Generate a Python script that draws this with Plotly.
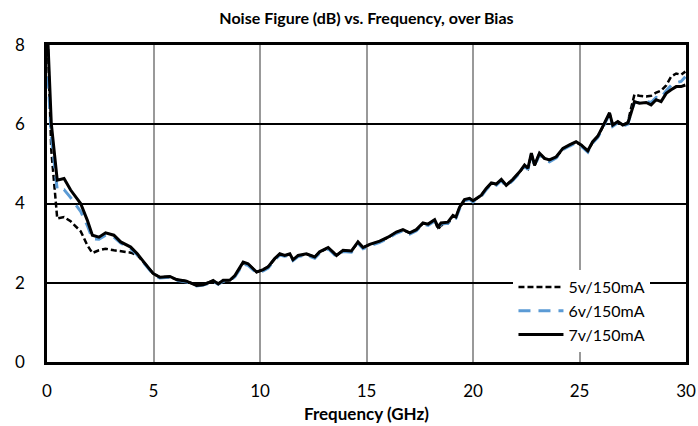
import plotly.graph_objects as go

# frequency points (GHz) shared by all three bias curves
freq = [0.05, 0.2, 0.48, 0.8, 1.11, 1.58, 1.89, 2.13, 2.44, 2.75, 3.14, 3.46, 3.93, 4.24, 4.55,
        4.99, 5.3, 5.77, 6.08, 6.55, 7.02, 7.33, 7.57, 7.8, 8.04, 8.27, 8.58, 8.82, 9.21, 9.44,
        9.84, 10.15, 10.38, 10.69, 10.93, 11.16, 11.4, 11.55, 11.79, 12.18, 12.57, 12.8, 13.2, 13.59, 13.9,
        14.29, 14.6, 14.84, 15.15, 15.62, 16.01, 16.4, 16.71, 17.03, 17.34, 17.65, 17.89, 18.2, 18.36, 18.5,
        18.82, 19.06, 19.2, 19.37, 19.6, 19.84, 20.0, 20.39, 20.62, 20.86, 21.09, 21.33, 21.56, 21.87, 22.19,
        22.42, 22.58, 22.74, 22.89, 23.12, 23.36, 23.59, 23.91, 24.22, 24.53, 24.84, 25.08, 25.39, 25.62, 25.86,
        26.09, 26.41, 26.56, 26.8, 27.03, 27.27, 27.42, 27.58, 27.81, 28.13, 28.36, 28.6, 28.83, 29.07, 29.3,
        29.54, 29.77, 29.97]

nf_5v = [7.9, 5.35, 3.62, 3.66, 3.55, 3.3, 2.95, 2.75, 2.82, 2.86, 2.82, 2.8, 2.76, 2.7, 2.5,
         2.23, 2.14, 2.15, 2.08, 2.04, 1.94, 1.95, 2.0, 2.05, 1.98, 2.06, 2.06, 2.17, 2.5, 2.47,
         2.27, 2.33, 2.4, 2.6, 2.72, 2.68, 2.72, 2.58, 2.68, 2.72, 2.65, 2.77, 2.88, 2.69, 2.81,
         2.8, 3.02, 2.89, 2.96, 3.04, 3.14, 3.27, 3.33, 3.26, 3.33, 3.5, 3.47, 3.58, 3.35, 3.45,
         3.5, 3.68, 3.65, 3.9, 4.08, 4.12, 4.06, 4.2, 4.37, 4.51, 4.48, 4.6, 4.46, 4.6, 4.79,
         4.96, 4.88, 5.25, 4.96, 5.26, 5.13, 5.09, 5.17, 5.38, 5.47, 5.55, 5.47, 5.33, 5.55, 5.69,
         5.93, 6.27, 5.98, 6.06, 5.98, 6.05, 6.4, 6.75, 6.72, 6.7, 6.72, 6.8, 6.85, 6.98, 7.2,
         7.28, 7.25, 7.33]

nf_6v = [7.2, 5.7, 4.35, 4.35, 4.15, 3.8, 3.45, 3.11, 3.1, 3.2, 3.15, 3.0, 2.86, 2.7, 2.5,
         2.21, 2.12, 2.14, 2.06, 2.02, 1.92, 1.94, 1.98, 2.04, 1.96, 2.04, 2.05, 2.15, 2.47, 2.44,
         2.25, 2.3, 2.37, 2.58, 2.7, 2.67, 2.7, 2.56, 2.66, 2.7, 2.62, 2.75, 2.86, 2.66, 2.79,
         2.77, 3.0, 2.86, 2.93, 3.02, 3.12, 3.25, 3.31, 3.23, 3.31, 3.48, 3.45, 3.56, 3.39, 3.48,
         3.5, 3.66, 3.63, 3.87, 4.07, 4.1, 4.04, 4.18, 4.35, 4.49, 4.46, 4.58, 4.43, 4.58, 4.77,
         4.94, 4.86, 5.24, 4.93, 5.24, 5.11, 5.05, 5.15, 5.36, 5.45, 5.53, 5.45, 5.3, 5.53, 5.67,
         5.91, 6.26, 5.95, 6.04, 5.95, 6.0, 6.3, 6.55, 6.55, 6.58, 6.55, 6.68, 6.66, 6.85, 6.98,
         7.05, 7.08, 7.2]

nf_7v = [8.0, 6.03, 4.59, 4.63, 4.34, 4.0, 3.58, 3.2, 3.15, 3.26, 3.2, 3.03, 2.9, 2.73, 2.52,
         2.23, 2.14, 2.16, 2.08, 2.04, 1.93, 1.95, 2.0, 2.06, 1.97, 2.06, 2.06, 2.18, 2.52, 2.48,
         2.27, 2.33, 2.4, 2.61, 2.73, 2.69, 2.73, 2.58, 2.69, 2.73, 2.65, 2.78, 2.89, 2.69, 2.82,
         2.8, 3.03, 2.89, 2.97, 3.05, 3.15, 3.28, 3.34, 3.26, 3.34, 3.51, 3.48, 3.59, 3.41, 3.51,
         3.53, 3.7, 3.66, 3.91, 4.1, 4.13, 4.07, 4.21, 4.38, 4.52, 4.49, 4.61, 4.46, 4.61, 4.8,
         4.97, 4.89, 5.27, 4.97, 5.27, 5.14, 5.1, 5.18, 5.39, 5.48, 5.56, 5.48, 5.33, 5.56, 5.7,
         5.94, 6.29, 5.98, 6.07, 5.98, 6.03, 6.28, 6.57, 6.53, 6.55, 6.49, 6.62, 6.57, 6.78, 6.87,
         6.95, 6.95, 6.99]

x_ticks = [0, 5, 10, 15, 20, 25, 30]
y_ticks = [0, 2, 4, 6, 8]

FONT = "Lato, Calibri, sans-serif"

fig = go.Figure()

fig.add_trace(go.Scatter(
    x=freq, y=nf_5v, name="5v/150mA", mode="lines",
    line=dict(color="black", width=2.5, dash="6px,3px"),
))
fig.add_trace(go.Scatter(
    x=freq, y=nf_6v, name="6v/150mA", mode="lines",
    line=dict(color="#5B9BD5", width=3, dash="12px,8px"),
))
fig.add_trace(go.Scatter(
    x=freq, y=nf_7v, name="7v/150mA", mode="lines",
    line=dict(color="black", width=3),
))

fig.update_layout(
    width=698, height=426,
    autosize=False,
    paper_bgcolor="white",
    plot_bgcolor="white",
    margin=dict(l=47, r=12, t=45, b=64),
    font=dict(family=FONT, size=17, color="black"),
    title=dict(
        text="<b>Noise Figure (dB) vs. Frequency, over Bias</b>",
        x=0.525, xanchor="center", y=0.957, yanchor="middle",
        font=dict(family=FONT, size=16, color="black"),
    ),
    legend=dict(
        x=0.73, y=0.29, xanchor="left", yanchor="top",
        bgcolor="white", borderwidth=0,
        font=dict(family=FONT, size=16, color="black"),
        itemwidth=45, tracegroupgap=0,
    ),
    showlegend=True,
)

fig.update_xaxes(
    range=[0, 30], tickvals=x_ticks, automargin=False,
    showgrid=True, gridcolor="#999999", gridwidth=1.5,
    showline=True, linecolor="black", linewidth=2.5, mirror=True,
    ticks="", zeroline=False, ticklabelstandoff=12,
    title=dict(text="<b>Frequency (GHz)</b>", font=dict(family=FONT, size=17), standoff=8),
    tickfont=dict(family=FONT, size=17),
)
fig.update_yaxes(
    range=[0, 8], tickvals=y_ticks, automargin=False,
    showgrid=True, gridcolor="black", gridwidth=1.5,
    showline=True, linecolor="black", linewidth=2.5, mirror=True,
    ticks="", zeroline=False, ticklabelstandoff=16,
    tickfont=dict(family=FONT, size=17),
)

# drop the default page margin so the figure sits at the window origin
fig.write_html(
    "out.html",
    config={"displayModeBar": False},
    post_script="document.body.style.margin='0';document.body.style.overflow='hidden';",
)
